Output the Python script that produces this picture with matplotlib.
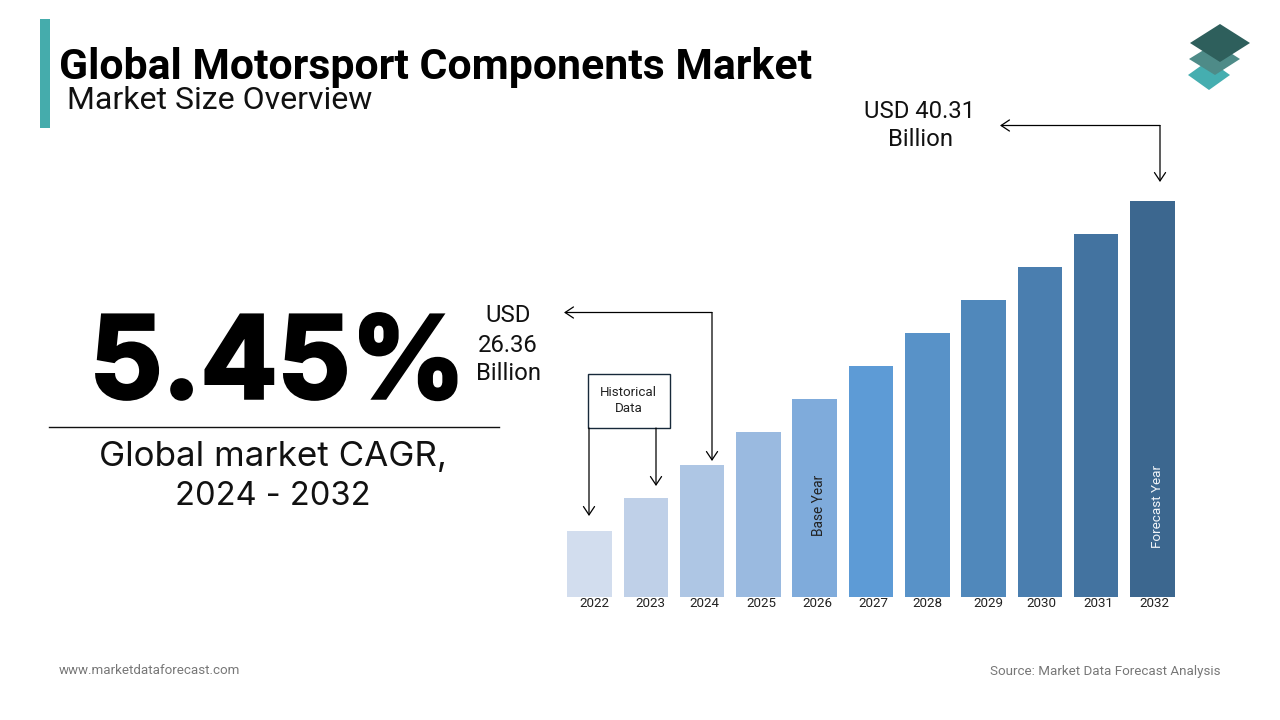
#!/usr/bin/env python3
"""
Global Motorsport Components Market - market size overview
"""
import matplotlib
matplotlib.use('Agg')
import matplotlib.pyplot as plt
import matplotlib.patheffects as pe
from matplotlib.patches import Polygon, Rectangle

# ============== data ==============
years = ['2022', '2023', '2024', '2025', '2026', '2027', '2028', '2029', '2030', '2031', '2032']
bar_heights = [66, 99, 132, 165, 198, 231, 264, 297, 330, 363, 396]
bar_colors = ['#D2DDEE', '#BFD0E8', '#AEC6E4', '#9ABAE0', '#7FABDB', '#5D9BD6',
              '#5892C8', '#5088BB', '#4A7EAF', '#4373A0', '#3C678F']
tick_shift = [0.08, 0.09, 0.04, 0.05, 0.05, 0.05, 0.0, 0.08, 0.02, 0.03, 0.03]

W, H = 1280, 720
fig = plt.figure(figsize=(12.8, 7.2), dpi=100, facecolor='white')


def px_rect(left, top, right, bottom):
    return [left / W, 1 - bottom / H, (right - left) / W, (bottom - top) / H]


# overlay in pixel coords, y down
bg = fig.add_axes([0, 0, 1, 1])
bg.set_xlim(0, W)
bg.set_ylim(H, 0)
bg.axis('off')

# ============== bars ==============
x0, step = 589.5, 56.3
left, right = 560, 1182
ax = fig.add_axes(px_rect(left, 180, right, 597))
ax.patch.set_alpha(0)
xs = list(range(len(years)))
ax.bar(xs, bar_heights, width=0.79, color=bar_colors, linewidth=0)
ax.set_xlim((left - x0) / step, (right - x0) / step)
ax.set_ylim(0, 417)
ax.set_xticks([x + s for x, s in zip(xs, tick_shift)])
ax.set_xticklabels(years, fontsize=9.6, family='Roboto', color='#222222')
ax.tick_params(axis='x', length=0, pad=0)
ax.set_yticks([])
for s in ax.spines.values():
    s.set_visible(False)
ax.text(4.07, 61, 'Base Year', rotation=90, ha='center', va='bottom',
        fontsize=9.8, family='Roboto', color='#222222')
ax.text(10.09, 49, 'Forecast Year', rotation=90, ha='center', va='bottom',
        fontsize=9.7, family='Roboto', color='#F2F5F9')

# ============== header ==============
bg.add_patch(Rectangle((40, 19), 10, 109, color='#45ACAC', lw=0))
bg.text(59, 67, 'Global Motorsport Components Market', fontsize=30.75, family='Roboto',
        weight='bold', color='black', va='center', ha='left')
bg.text(67, 100.5, 'Market Size Overview', fontsize=23, family='Roboto',
        color='#111111', va='center', ha='left')

# logo, three stacked diamonds
bg.add_patch(Polygon([(1188, 75), (1209, 60), (1230, 75), (1209, 90)], closed=True,
                     color='#45AEB0', lw=0))
bg.add_patch(Polygon([(1189, 59), (1215, 43), (1240, 59), (1215, 75)], closed=True,
                     color='#4E8B88', lw=0))
bg.add_patch(Polygon([(1190, 43), (1220, 24), (1250, 43), (1220, 62)], closed=True,
                     color='#2E5F5C', lw=0))

# ============== left block ==============
bg.text(278, 398, '5.45%', fontsize=82, family='Inter', weight='bold', color='black',
        ha='center', va='baseline',
        path_effects=[pe.withStroke(linewidth=2.5, foreground='black', joinstyle='miter')])
bg.plot([49, 499], [427, 427], color='#111111', lw=1)
bg.text(273, 457, 'Global market CAGR,', fontsize=25.2, family='Inter', color='#111111',
        ha='center', va='center')
bg.text(273, 496.5, '2024 - 2032', fontsize=23.5, family='Inter', color='#111111',
        ha='center', va='center')

# ============== callouts ==============
bg.text(919.5, 111, 'USD 40.31', fontsize=17.2, family='Roboto', color='#111111',
        ha='center', va='center')
bg.text(920, 140, 'Billion', fontsize=17.2, family='Roboto', color='#111111',
        ha='center', va='center')
bg.text(508, 316, 'USD', fontsize=17.2, family='Roboto', color='#111111', ha='center', va='center')
bg.text(508, 346, '26.36', fontsize=17.2, family='Roboto', color='#111111', ha='center', va='center')
bg.text(508.5, 374, 'Billion', fontsize=17.2, family='Roboto', color='#111111', ha='center', va='center')

bg.add_patch(Rectangle((587.5, 373.5), 82, 54, facecolor='white', edgecolor='#17293A', lw=1))
bg.text(628.5, 393, 'Historical', fontsize=9.6, family='Roboto', color='#222222',
        ha='center', va='center')
bg.text(628.5, 409, 'Data', fontsize=9.6, family='Roboto', color='#222222',
        ha='center', va='center')


def arrow(tip, tail):
    # straight run with an open arrow head at the tip
    bg.annotate('', xy=tip, xytext=tail,
                arrowprops=dict(arrowstyle='->,head_length=0.6,head_width=0.4', color='black',
                                lw=0.9, shrinkA=0, shrinkB=0))


arrow((589, 516), (589, 428))
arrow((656, 486), (656, 428))
arrow((564, 312.5), (712, 312.5))
arrow((712, 461), (712, 312.5))
arrow((1000, 125.5), (1160, 125.5))
arrow((1160, 182), (1160, 125.5))

# ============== footer ==============
bg.text(59, 671, 'www.marketdataforecast.com', fontsize=9.6, family='Roboto', color='#777777',
        ha='left', va='center')
bg.text(1220, 671, 'Source: Market Data Forecast Analysis', fontsize=9.6, family='Roboto',
        color='#777777', ha='right', va='center')

plt.savefig('out.png', dpi=100)
plt.close()
